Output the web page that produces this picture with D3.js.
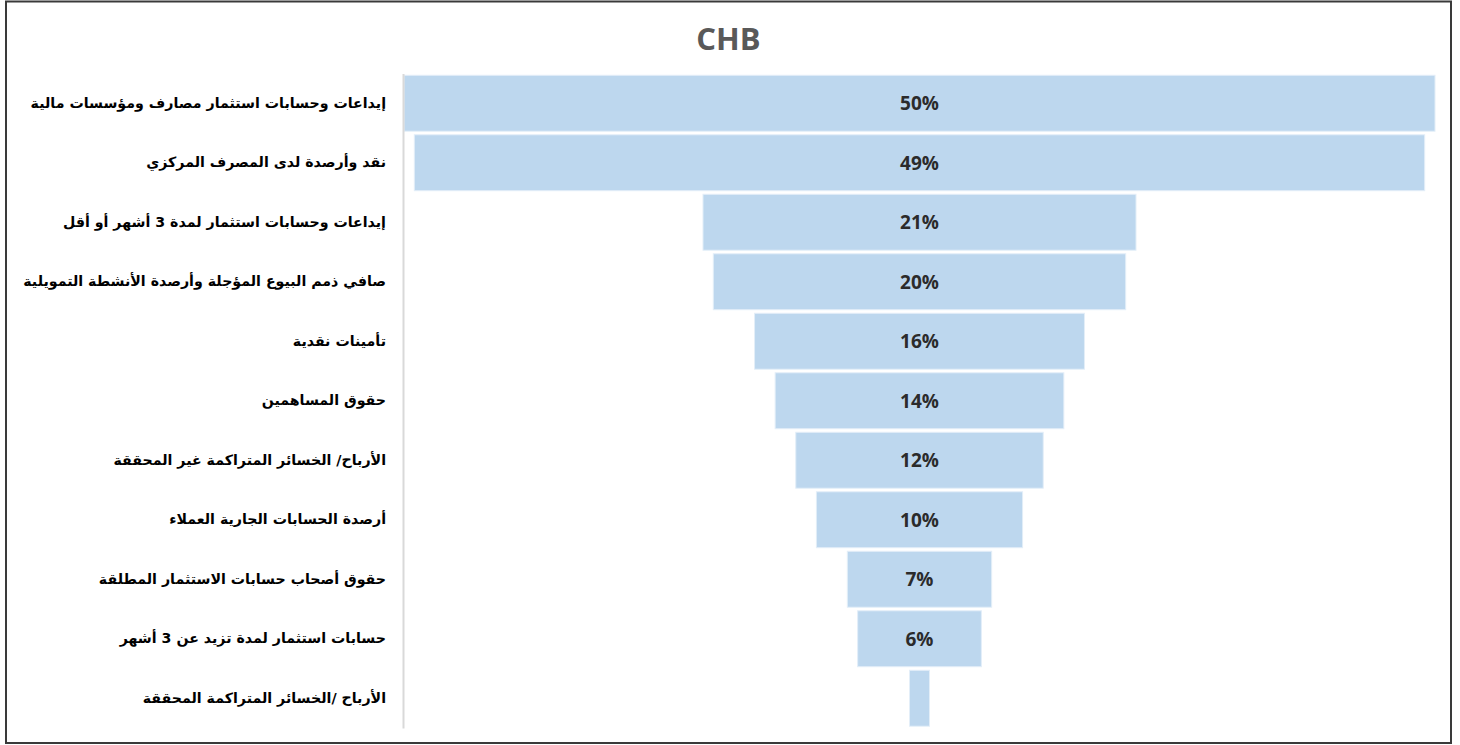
<!DOCTYPE html>
<html>
<head>
<meta charset="utf-8">
<script src="https://cdn.jsdelivr.net/npm/d3@7"></script>
<style>
    html, body { margin: 0; padding: 0; background: #fff; }
    svg { display: block; }
</style>
</head>
<body>
<svg width="1460" height="745"></svg>
<script>

    // ------------------------------------------------------
    // DATA
    // ------------------------------------------------------
    var chartTitle = "CHB";

    var categories = [
        "إيداعات وحسابات استثمار مصارف ومؤسسات مالية",
        "نقد وأرصدة لدى المصرف المركزي",
        "إيداعات وحسابات استثمار لمدة 3 أشهر أو أقل",
        "صافي ذمم البيوع المؤجلة وأرصدة الأنشطة التمويلية",
        "تأمينات نقدية",
        "حقوق المساهمين",
        "الأرباح/ الخسائر المتراكمة غير المحققة",
        "أرصدة الحسابات الجارية العملاء",
        "حقوق أصحاب حسابات الاستثمار المطلقة",
        "حسابات استثمار لمدة تزيد عن 3 أشهر",
        "الأرباح /الخسائر المتراكمة المحققة"
    ];

    var values = [50, 49, 21, 20, 16, 14, 12, 10, 7, 6, 0.97];

    // last bar carries no label in the original
    var valueLabels = ["50%", "49%", "21%", "20%", "16%", "14%", "12%", "10%", "7%", "6%", ""];

    // ------------------------------------------------------
    // Setup
    // ------------------------------------------------------
    var svg = d3.select("svg");
    var centerX = 919.5;

    var data = categories.map(function(c, i) {
        return {cat: c, value: values[i], label: valueLabels[i]};
    });

    var y = d3.scaleBand()
        .domain(categories)
        .range([73.5, 728])
        .paddingInner(0.06)
        .paddingOuter(0.03);

    var w = d3.scaleLinear()
        .domain([0, 50])
        .range([0, 1031]);

    // frame
    svg.append("rect")
        .attr("x", 6)
        .attr("y", 1.5)
        .attr("width", 1445)
        .attr("height", 741.5)
        .attr("fill", "#fff")
        .attr("stroke", "#3a3a3a")
        .attr("stroke-width", 2);

    // title
    svg.append("text")
        .attr("x", 728.5)
        .attr("y", 50)
        .attr("text-anchor", "middle")
        .attr("font-family", "'Open Sans', sans-serif")
        .attr("font-weight", 700)
        .attr("font-size", 31)
        .attr("fill", "#595959")
        .text(chartTitle);

    // bars
    var g = svg.append("g");

    g.selectAll("rect.bar")
        .data(data)
        .enter().append("rect")
        .attr("class", "bar")
        .attr("x", function(d) { return centerX - w(d.value) / 2; })
        .attr("y", function(d) { return y(d.cat); })
        .attr("width", function(d) { return w(d.value); })
        .attr("height", y.bandwidth())
        .attr("fill", "#bdd7ee")
        .attr("stroke", "#e3eef8")
        .attr("stroke-width", 1);

    g.selectAll("text.val")
        .data(data)
        .enter().append("text")
        .attr("class", "val")
        .attr("x", centerX)
        .attr("y", function(d) { return y(d.cat) + y.bandwidth() / 2; })
        .attr("dy", "0.38em")
        .attr("text-anchor", "middle")
        .attr("font-family", "'Open Sans', sans-serif")
        .attr("font-weight", 700)
        .attr("font-size", 19)
        .attr("fill", "#2b2b2b")
        .text(function(d) { return d.label; });

    // category axis
    var axis = svg.append("g")
        .attr("transform", "translate(403,0)")
        .call(d3.axisLeft(y).tickSize(0).tickPadding(17));

    axis.select(".domain")
        .attr("stroke", "#d9d9d9")
        .attr("stroke-width", 2);

    axis.selectAll("text")
        .attr("font-family", "'DejaVu Sans', sans-serif")
        .attr("font-weight", 700)
        .attr("font-size", 14.2)
        .attr("fill", "#000");

</script>
</body>
</html>
